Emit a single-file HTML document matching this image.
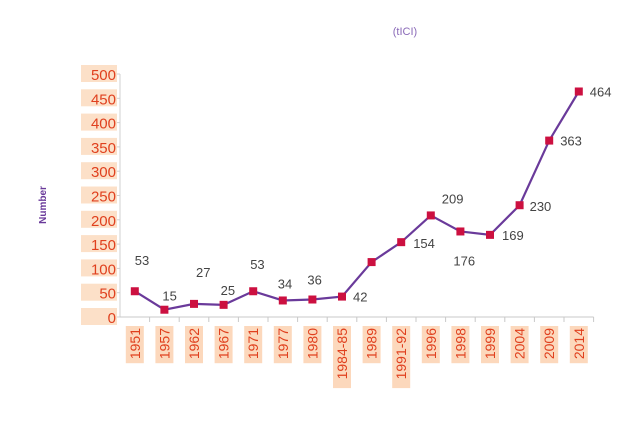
<!DOCTYPE html>
<html><head><meta charset="utf-8"><style>
body{margin:0;background:#fff;width:633px;height:435px;overflow:hidden;font-family:"Liberation Sans",sans-serif}
</style></head><body>
<svg width="633" height="435">
<text x="405" y="35" font-size="11" fill="#8a6ab8" text-anchor="middle">(tICI)</text>
<text transform="translate(46,205) rotate(-90)" font-size="10" fill="#6a3a9a" text-anchor="middle" font-weight="bold">Number</text>
<g id="g"></g>
</svg>
<script>
const categories=["1951","1957","1962","1967","1971","1977","1980","1984-85","1989","1991-92","1996","1998","1999","2004","2009","2014"];
const values=[53,15,27,25,53,34,36,42,113,154,209,176,169,230,363,464];
const labels=["53","15","27","25","53","34","36","42","","154","209","176","169","230","363","464"];
const labelDx=[0,-2,2,-3,-3,-5,-5,11,0,12,11,-7,12,10,11,11];
const labelDy=[-31,-14,-32,-15,-27,-17,-20,0,0,1,-17,29,0,1,0,0];
const yTicks=[0,50,100,150,200,250,300,350,400,450,500];
const g=document.getElementById('g');const NS='http://www.w3.org/2000/svg';
const x0=120,step=29.6,yb=317,yt=74;
const X=i=>x0+step*(i+0.5), Y=v=>yb-(v/500)*(yb-yt);
function mk(t,a){const e=document.createElementNS(NS,t);for(const k in a)e.setAttribute(k,a[k]);g.appendChild(e);return e;}
let e=mk('line',{x1:x0,y1:yt,x2:x0,y2:yb,stroke:'#d0d0d0'});


e=mk('line',{x1:x0,y1:yb,x2:x0+step*categories.length,y2:yb,stroke:'#c8c8c8'});


yTicks.forEach(v=>{
 mk('line',{x1:x0-4,y1:Y(v),x2:x0,y2:Y(v),stroke:'#d0d0d0'});
 const r=mk('rect',{x:81,y:Y(v)-9,width:36,height:17,fill:'#fce0c8'});
 
 
 const t=mk('text',{x:116,y:Y(v)+6,'font-size':15,fill:'#e0401e','text-anchor':'end'});
 t.textContent=v;
 
 
});
categories.forEach((c,i)=>{
 mk('line',{x1:x0+step*(i+1),y1:yb,x2:x0+step*(i+1),y2:yb+5,stroke:'#c8c8c8'});
 const w=c.length*8.3+4;
 const r=mk('rect',{x:X(i)-9,y:326,width:18,height:w,fill:'#fcd8bc'});
 
 
 const t=mk('text',{transform:`translate(${X(i)+5},328) rotate(-90)`,'font-size':14,fill:'#e0401e','text-anchor':'end'});
 t.textContent=c;
 
 
});
e=mk('polyline',{points:values.map((v,i)=>X(i)+','+Y(v)).join(' '),fill:'none',stroke:'#6a3a9a','stroke-width':2.2});


values.forEach((v,i)=>{
 const m=mk('rect',{x:X(i)-4,y:Y(v)-4,width:8,height:8,fill:'#cc1040'});
 
 
 if(labels[i]){const t=mk('text',{x:X(i)+labelDx[i],y:Y(v)+labelDy[i]+5,'font-size':13,fill:'#444'});
 t.textContent=labels[i];
 
 }
});
</script>
</body></html>
